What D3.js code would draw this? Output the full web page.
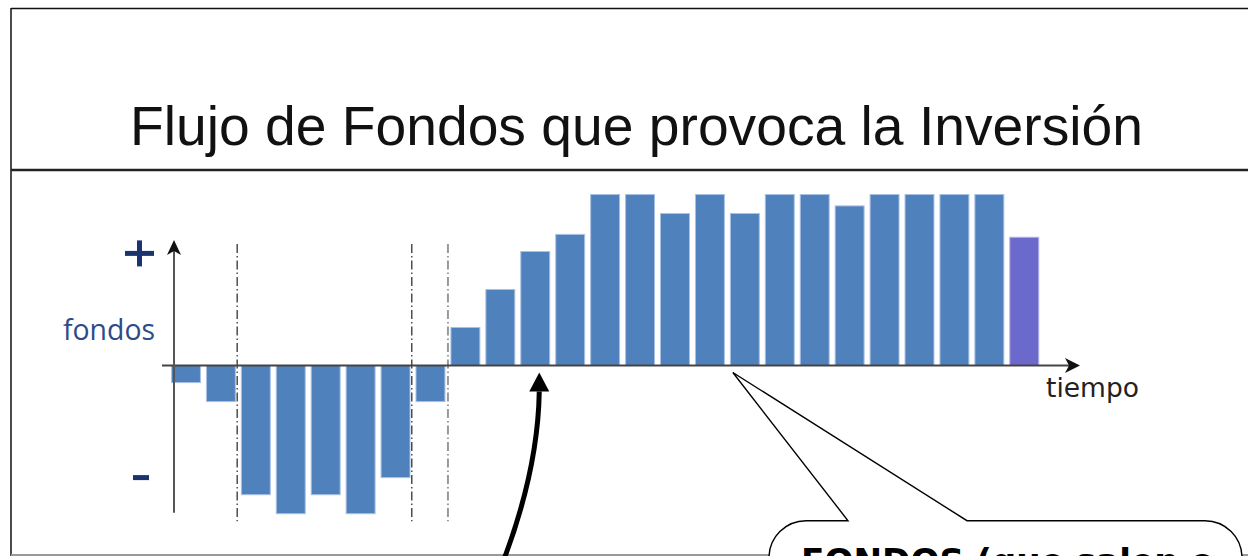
<!DOCTYPE html>
<html>
<head>
<meta charset="utf-8">
<script src="https://cdn.jsdelivr.net/npm/d3@7"></script>
<style>
html,body{margin:0;padding:0;background:#fff;overflow:hidden;}
svg{display:block;}
</style>
</head>
<body>
<svg id="chart" width="1248" height="556"></svg>
<script>
// ---- data ----
const titulo = "Flujo de Fondos que provoca la Inversión";
const periodos = ["1","2","3","4","5","6","7","8","9","10","11","12","13","14","15","16","17","18","19","20","21","22","23","24","25"];
const flujo = [-0.9,-1.9,-6.8,-7.8,-6.8,-7.8,-5.9,-1.9,2.0,4.0,6.0,6.9,9.0,9.0,8.0,9.0,8.0,9.0,9.0,8.4,9.0,9.0,9.0,9.0,6.75];
const tipo = ["op","op","op","op","op","op","op","op","op","op","op","op","op","op","op","op","op","op","op","op","op","op","op","op","residual"];
const cortes = ["2","7","8"];          // period after which a phase line is drawn
const etiquetaY = "fondos";
const etiquetaX = "tiempo";
const textoGlobo = "FONDOS (que salen o";

const svg = d3.select("#chart");
const W = 1248, H = 556;

const x = d3.scaleBand().domain(periodos).range([168.5, 1041.75]).paddingInner(0.143).paddingOuter(0.0715);
const y = d3.scaleLinear().domain([-10, 10]).range([555.5, 175.5]);
const color = d3.scaleOrdinal().domain(["op","residual"]).range(["#4f81bd","#6c69cc"]);

function fit(sel, w){
  const fs = parseFloat(sel.attr("font-size"));
  const len = sel.node().getComputedTextLength();
  sel.attr("font-size", fs * w / len);
}

// ---- frame ----
svg.append("line").attr("x1",11).attr("x2",W).attr("y1",8.5).attr("y2",8.5).attr("stroke","#111").attr("stroke-width",1.5);
svg.append("line").attr("x1",11).attr("x2",11).attr("y1",8).attr("y2",H).attr("stroke","#111").attr("stroke-width",1.5);
svg.append("line").attr("x1",11).attr("x2",W).attr("y1",170).attr("y2",170).attr("stroke","#222").attr("stroke-width",2.6);
svg.append("line").attr("x1",11).attr("x2",W).attr("y1",555).attr("y2",555).attr("stroke","#999").attr("stroke-width",2);

// ---- title ----
const t = svg.append("text").attr("x",130).attr("y",145).attr("font-family","'Liberation Sans', Arial, sans-serif")
  .attr("font-size",53).attr("fill","#111").text(titulo);
fit(t, 1013);

// ---- phase lines ----
const step = x.step(), gap = step - x.bandwidth();
const estilos = [
  {c:"#222", w:1.2},
  {c:"#222", w:1.2},
  {c:"#999", w:2}
];
svg.append("g").selectAll("line").data(cortes).join("line")
  .attr("x1", d => x(d) + x.bandwidth() + gap/2 - (d==="8"?0:1.2))
  .attr("x2", d => x(d) + x.bandwidth() + gap/2 - (d==="8"?0:1.2))
  .attr("y1", y(6.4)).attr("y2", y(-8.2))
  .attr("stroke", (d,i) => estilos[i].c).attr("stroke-width",(d,i)=>estilos[i].w)
  .attr("stroke-dasharray","9,3,1.5,3");

// ---- bars ----
svg.append("g").selectAll("rect").data(periodos).join("rect")
  .attr("x", d => x(d) + 0.5)
  .attr("width", x.bandwidth() - 1)
  .attr("y", (d,i) => y(Math.max(0, flujo[i])))
  .attr("height", (d,i) => Math.abs(y(flujo[i]) - y(0)))
  .attr("fill", (d,i) => color(tipo[i]))
  .attr("stroke", (d,i) => tipo[i]==="op" ? "#a9c1e3" : "#b3b1ea")
  .attr("stroke-width", 1);

// ---- axes ----
const y0 = y(0);
const xAxisStart = x.range()[0] - 6.5, xAxisEnd = 1080;
svg.append("line").attr("x1", xAxisStart).attr("x2", xAxisEnd - 6).attr("y1", y0).attr("y2", y0)
  .attr("stroke","#444").attr("stroke-width",2);
svg.append("path").attr("d", `M${xAxisEnd},${y0} L${xAxisEnd-15},${y0-7.5} L${xAxisEnd-11},${y0} L${xAxisEnd-15},${y0+7.5} Z`).attr("fill","#111");

const ax = 174;
svg.append("line").attr("x1", ax).attr("x2", ax).attr("y1", y(-7.75)).attr("y2", y(6.6)+6)
  .attr("stroke","#555").attr("stroke-width",2);
const yt = y(6.6);
svg.append("path").attr("d", `M${ax},${yt} L${ax-7},${yt+15} L${ax},${yt+11} L${ax+7},${yt+15} Z`).attr("fill","#111");

// ---- axis labels ----
svg.append("rect").attr("x",125).attr("y",y(5.9)-2.5).attr("width",29).attr("height",5).attr("fill","#1b3470");
svg.append("rect").attr("x",137).attr("y",y(5.9)-13).attr("width",5).attr("height",26).attr("fill","#1b3470");
svg.append("rect").attr("x",133).attr("y",y(-5.9)-2.5).attr("width",16).attr("height",5).attr("fill","#1b3470");

const fl = svg.append("text").attr("x",63).attr("y",340).attr("font-family","'Open Sans', sans-serif")
  .attr("font-size",24).attr("fill","#2d4a8a").text(etiquetaY);
fit(fl, 92);
const tl = svg.append("text").attr("x",1046).attr("y",397).attr("font-family","'DejaVu Sans', sans-serif")
  .attr("font-size",22).attr("fill","#222").text(etiquetaX);
fit(tl, 93);

// ---- curved arrow ----
const tipX = x("11") + x.bandwidth()/2 + 4, tipY = y0 + 7;
svg.append("path").attr("d", `M503,562 Q538,470 ${tipX},${tipY+19}`).attr("fill","none").attr("stroke","#000").attr("stroke-width",5);
svg.append("path").attr("d", `M${tipX},${tipY} L${tipX-10},${tipY+19} L${tipX+10},${tipY+19} Z`).attr("fill","#000");

// ---- callout ----
const calloutX = x("17") + x.bandwidth()/2 - 12, calloutY = y0 + 7;
const boxTop = 520.7, boxL = 769, boxR = 1242, rad = 37;
svg.append("path").attr("d",
  `M${boxL+rad},${boxTop} L848,${boxTop} L${calloutX},${calloutY} L967,${boxTop} L${boxR-rad},${boxTop} A${rad},${rad} 0 0 1 ${boxR},${boxTop+rad} L${boxR},620 L${boxL},620 L${boxL},${boxTop+rad} A${rad},${rad} 0 0 1 ${boxL+rad},${boxTop} Z`)
  .attr("fill","#fff").attr("stroke","#000").attr("stroke-width",1.4);
const ct = svg.append("text").attr("x",801).attr("y",573).attr("font-family","'DejaVu Sans', sans-serif")
  .attr("font-weight","bold").attr("font-size",34).attr("fill","#000").text(textoGlobo);
fit(ct, 413);
</script>
</body>
</html>
